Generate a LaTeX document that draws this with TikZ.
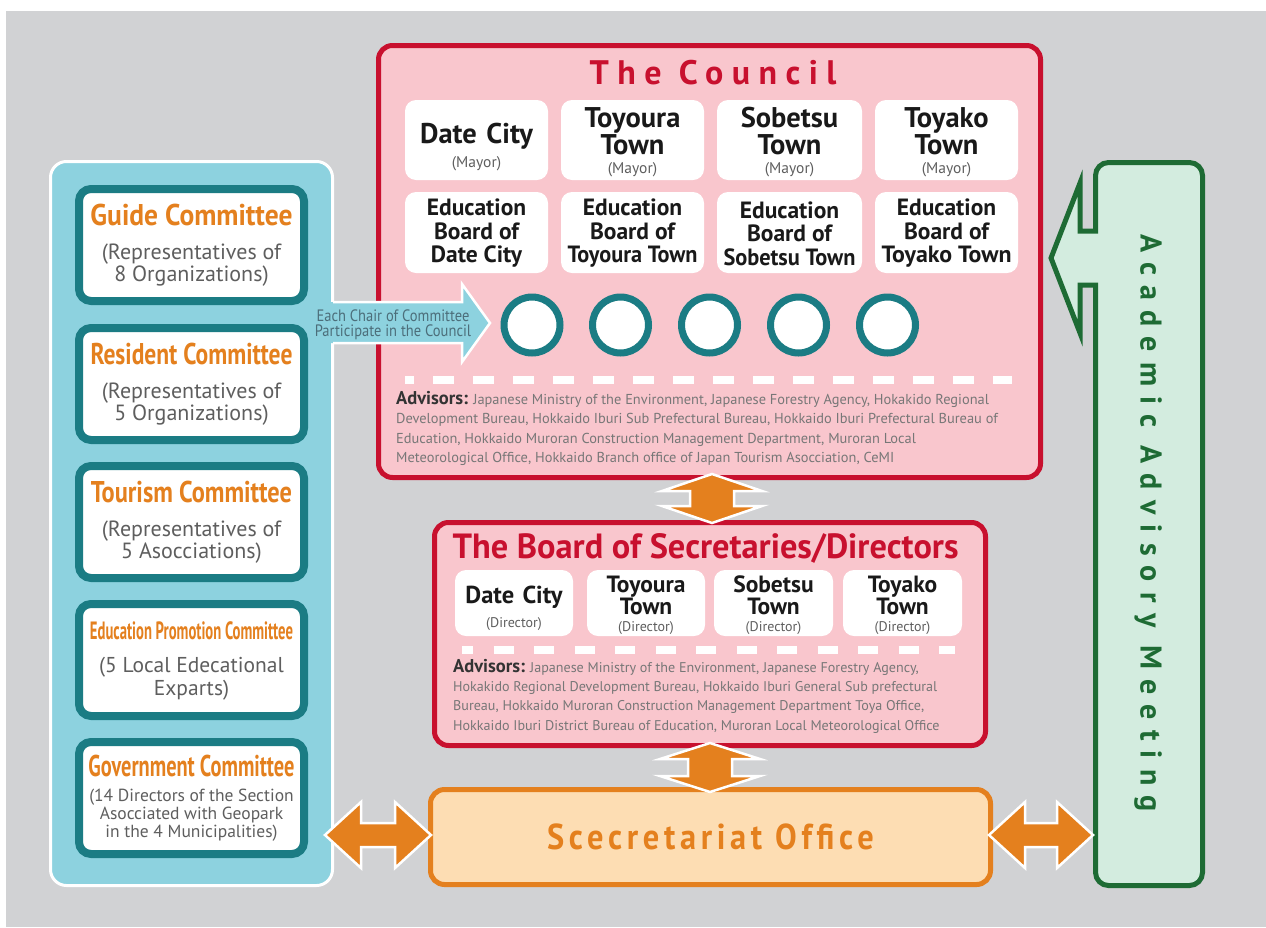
\documentclass[tikz,border=0pt]{standalone}
\usepackage{fontspec}
\usepackage{graphicx}
\usetikzlibrary{calc}
\setmainfont{PT Sans}
\newfontfamily\narrowfont[FakeStretch=0.88]{PT Sans}
\newfontfamily\spacedfont[LetterSpace=25]{PT Sans}
\newfontfamily\secfont[FakeStretch=0.9,LetterSpace=13]{PT Sans}
\newfontfamily\acadfont[LetterSpace=34]{PT Sans}
\newcommand\fsz[2]{\fontsize{#1}{#2}\selectfont}
% squeeze or widen a line of text to a given width, keeping its height
\newcommand\fitw[2]{\resizebox{#1}{\height}{#2}}

\definecolor{bggray}{HTML}{D1D2D4}
\definecolor{cpink}{HTML}{F9C6CD}
\definecolor{cred}{HTML}{C8102E}
\definecolor{cteal}{HTML}{1B7C84}
\definecolor{ccyan}{HTML}{8DD2DF}
\definecolor{corange}{HTML}{E4801E}
\definecolor{cpeach}{HTML}{FDDDB3}
\definecolor{cmint}{HTML}{D3ECDF}
\definecolor{cgreen}{HTML}{1E6B34}
\definecolor{txtgray}{HTML}{5E5E5E}
\definecolor{advgray}{HTML}{777777}
\definecolor{chairtxt}{HTML}{4C6E7A}

% double block arrows: centre, two tip positions, head half-width, shaft half-width, head length
\newcommand\VArrow[6]{\filldraw[blockarrow] (#1,#2) -- (#1+#4,#2+#6) -- (#1+#5,#2+#6) -- (#1+#5,#3-#6) -- (#1+#4,#3-#6) -- (#1,#3) -- (#1-#4,#3-#6) -- (#1-#5,#3-#6) -- (#1-#5,#2+#6) -- (#1-#4,#2+#6) -- cycle;}
\newcommand\HArrow[6]{\filldraw[blockarrow] (#2,#1) -- (#2+#6,#1-#4) -- (#2+#6,#1-#5) -- (#3-#6,#1-#5) -- (#3-#6,#1-#4) -- (#3,#1) -- (#3-#6,#1+#4) -- (#3-#6,#1+#5) -- (#2+#6,#1+#5) -- (#2+#6,#1+#4) -- cycle;}

\begin{document}
\begin{tikzpicture}[x=1pt,y=-1pt,
  every node/.style={inner sep=0pt},
  bigbox/.style={rounded corners=14, line width=5},
  committee/.style={fill=white, draw=cteal, line width=8, rounded corners=12, minimum width=225, minimum height=112},
  ctitle/.style={text=corange, font=\bfseries\fsz{30}{32}},
  csub/.style={text=txtgray, align=center, font=\fsz{22}{22}},
  seatbox/.style={fill=white, rounded corners=11},
  mname/.style={align=center, text=black!90, font=\bfseries\fsz{28.5}{27}},
  ebname/.style={align=center, text=black!90, font=\bfseries\fsz{23.5}{23.5}},
  dname/.style={align=center, text=black!90, font=\bfseries\fsz{23.5}{22}},
  role/.style={text=txtgray, font=\fsz{15.5}{15}},
  seat/.style={circle, draw=cteal, fill=white, line width=7, minimum size=56},
  dashline/.style={white, line width=8},
  advisors/.style={align=left, text=advgray, font=\fsz{14.4}{19.5}},
  blockarrow/.style={fill=corange, draw=white, line width=2.5, line join=miter}]

% canvas
\useasboundingbox (0,0) rectangle (1266,927);
\fill[white] (0,0) rectangle (1266,927);
\fill[bggray] (6,11) rectangle (1266,927);

% committees panel
\node[bigbox, fill=ccyan, draw=white, line width=3, rounded corners=16, minimum width=282, minimum height=724] (panel) at (191.5,523.5) {};

\node[committee] (guide) at (191.5,245) {};
\node[ctitle] at ($(guide)+(0,-30)$) {\fitw{202pt}{Guide Committee}};
\node[csub] at ($(guide)+(0,20)$) {(Representatives of\\8 Organizations)};

\node[committee] (resident) at (191.5,384) {};
\node[ctitle] at ($(resident)+(0,-30)$) {\fitw{202pt}{Resident Committee}};
\node[csub] at ($(resident)+(0,20)$) {(Representatives of\\5 Organizations)};

\node[committee] (tourism) at (191.5,522) {};
\node[ctitle] at ($(tourism)+(0,-30)$) {\fitw{201pt}{Tourism Committee}};
\node[csub] at ($(tourism)+(0,20)$) {(Representatives of\\5 Asocciations)};

\node[committee] (education) at (191.5,660) {};
\node[ctitle, font=\bfseries\fsz{25}{26}] at ($(education)+(0,-29)$) {\fitw{203pt}{Education Promotion Committee}};
\node[csub, font=\fsz{21.5}{23}] at ($(education)+(0,18.5)$) {(5 Local Edecational\\Exparts)};

\node[committee] (government) at (191.5,798) {};
\node[ctitle] at ($(government)+(0,-32)$) {\fitw{206pt}{Government Committee}};
\node[csub, font=\fsz{17.5}{18}] at ($(government)+(0,17)$) {(14 Directors of the Section\\Asocciated with Geopark\\in the 4 Municipalities)};

% the council
\node[bigbox, fill=cpink, draw=cred, minimum width=662, minimum height=432] (council) at (709.5,261.5) {};
\node[text=cred, font=\spacedfont\bfseries\fsz{34}{34}] (counciltitle) at (713,73) {The Council};

\node[seatbox, minimum width=143, minimum height=80] (m1) at (476.5,140) {};
\node[seatbox, minimum width=143, minimum height=80] (m2) at (632.5,140) {};
\node[seatbox, minimum width=145, minimum height=80] (m3) at (789.5,140) {};
\node[seatbox, minimum width=143, minimum height=80] (m4) at (946.5,140) {};
\node[mname] at ($(m1)+(0,-4)$) {Date\,\,City};
\node[role] at ($(m1)+(0,24)$) {(Mayor)};
\node[mname] at ($(m2)+(0,-9)$) {Toyoura\\Town};
\node[role] at ($(m2)+(0,29.5)$) {(Mayor)};
\node[mname] at ($(m3)+(0,-9)$) {Sobetsu\\Town};
\node[role] at ($(m3)+(0,29.5)$) {(Mayor)};
\node[mname] at ($(m4)+(0,-9)$) {Toyako\\Town};
\node[role] at ($(m4)+(0,29.5)$) {(Mayor)};

\node[seatbox, minimum width=143, minimum height=81] (e1) at (476.5,232.5) {};
\node[seatbox, minimum width=143, minimum height=81] (e2) at (632.5,232.5) {};
\node[seatbox, minimum width=145, minimum height=81] (e3) at (789.5,232.5) {};
\node[seatbox, minimum width=143, minimum height=81] (e4) at (946.5,232.5) {};
\node[ebname] at ($(e1)+(0,1)$) {Education\\Board of\\Date City};
\node[ebname] at ($(e2)+(0,1)$) {Education\\Board of\\\fitw{130pt}{Toyoura Town}};
\node[ebname] at ($(e3)+(0,1)$) {Education\\Board of\\\fitw{132pt}{Sobetsu Town}};
\node[ebname] at ($(e4)+(0,1)$) {Education\\Board of\\\fitw{130pt}{Toyako Town}};

\node[seat] (s1) at (532,325) {};
\node[seat] (s2) at (620.5,325) {};
\node[seat] (s3) at (709.5,325) {};
\node[seat] (s4) at (798.5,325) {};
\node[seat] (s5) at (887.5,325) {};

\coordinate (cd1) at (405,380);
\coordinate (cd2) at (1012,380);
\draw[dashline, dash pattern=on 21 off 19, dash phase=12] (cd1) -- (cd2);

\node[advisors, anchor=north west] (cadv) at (396,391) {{\color{black!80}\bfseries\fsz{18.5}{19.5}Advisors:} Japanese Ministry of the Environment, Japanese Forestry Agency, Hokakido Regional\\Development Bureau, Hokkaido Iburi Sub Prefectural Bureau, Hokkaido Iburi Prefectural Bureau of\\Education, Hokkaido Muroran Construction Management Department, Muroran Local\\Meteorological Office, Hokkaido Branch office of Japan Tourism Asocciation, CeMI};

% chairs of the committees join the council
\fill[ccyan] (325,302) -- (462,302) -- (462,284) -- (490,323) -- (462,362) -- (462,343) -- (325,343) -- cycle;
\draw[white, line width=2.5, line join=miter] (333,302) -- (462,302) -- (462,284) -- (490,323) -- (462,362) -- (462,343) -- (333,343);
\node[align=center, text=chairtxt, font=\narrowfont\fsz{16.5}{15}] (chair) at (393,324.5) {Each Chair of Committee\\Participate in the Council};

% the board of secretaries / directors
\node[bigbox, fill=cpink, draw=cred, minimum width=551, minimum height=223] (board) at (710,634) {};
\node[text=cred, font=\bfseries\fsz{35}{36}] (boardtitle) at (705.5,548) {\fitw{506pt}{The Board of Secretaries/Directors}};

\node[seatbox, minimum width=118, minimum height=66] (d1) at (514,603) {};
\node[seatbox, minimum width=118, minimum height=66] (d2) at (646,603) {};
\node[seatbox, minimum width=119, minimum height=66] (d3) at (773.5,603) {};
\node[seatbox, minimum width=119, minimum height=66] (d4) at (902.5,603) {};
\node[dname, font=\bfseries\fsz{24.5}{22}] at ($(d1)+(0,-6)$) {Date\,\,City};
\node[role, font=\fsz{14}{14}] at ($(d1)+(0,21)$) {(Director)};
\node[dname] at ($(d2)+(0,-8)$) {Toyoura\\Town};
\node[role, font=\fsz{14}{14}] at ($(d2)+(0,25.5)$) {(Director)};
\node[dname] at ($(d3)+(0,-8)$) {Sobetsu\\Town};
\node[role, font=\fsz{14}{14}] at ($(d3)+(0,25.5)$) {(Director)};
\node[dname] at ($(d4)+(0,-8)$) {Toyako\\Town};
\node[role, font=\fsz{14}{14}] at ($(d4)+(0,25.5)$) {(Director)};

\coordinate (bd1) at (462,650);
\coordinate (bd2) at (955,650);
\draw[dashline, dash pattern=on 20 off 20.5, dash phase=9] (bd1) -- (bd2);

\node[advisors, font=\fsz{14.1}{19.3}, anchor=north west] (badv) at (453,659) {{\color{black!80}\bfseries\fsz{18.5}{19.3}Advisors:} Japanese Ministry of the Environment, Japanese Forestry Agency,\\Hokakido Regional Development Bureau, Hokkaido Iburi General Sub prefectural\\Bureau, Hokkaido Muroran Construction Management Department Toya Office,\\Hokkaido Iburi District Bureau of Education, Muroran Local Meteorological Office};

% secretariat office
\node[bigbox, fill=cpeach, draw=corange, minimum width=560, minimum height=95] (office) at (710.5,837) {};
\node[text=corange, font=\secfont\bfseries\fsz{36}{36}] at (office) {Scecretariat Office};

% academic advisory meeting, with its arrow towards the council
\draw[cgreen, fill=cmint, line width=5, line join=miter]
  (1095.5,200) [rounded corners=13] -- (1095.5,162.5) -- (1202.5,162.5) -- (1202.5,885.5) -- (1095.5,885.5) -- (1095.5,850)
  [sharp corners] -- (1095.5,285) -- (1080,285) -- (1080,333) -- (1051,258) -- (1080,183) -- (1080,231) -- (1095.5,231) -- cycle;
\node[rotate=-90, text=cgreen, font=\acadfont\bfseries\fsz{30}{30}] (academic) at (1148,523) {Academic Advisory Meeting};

% exchanges between the bodies
\VArrow{712}{474}{523}{50}{22}{17}
\VArrow{710}{743}{792}{50}{22}{16}
\HArrow{835}{325}{431}{33}{12}{36}
\HArrow{835}{989}{1093}{33}{12}{36}
\end{tikzpicture}
\end{document}
